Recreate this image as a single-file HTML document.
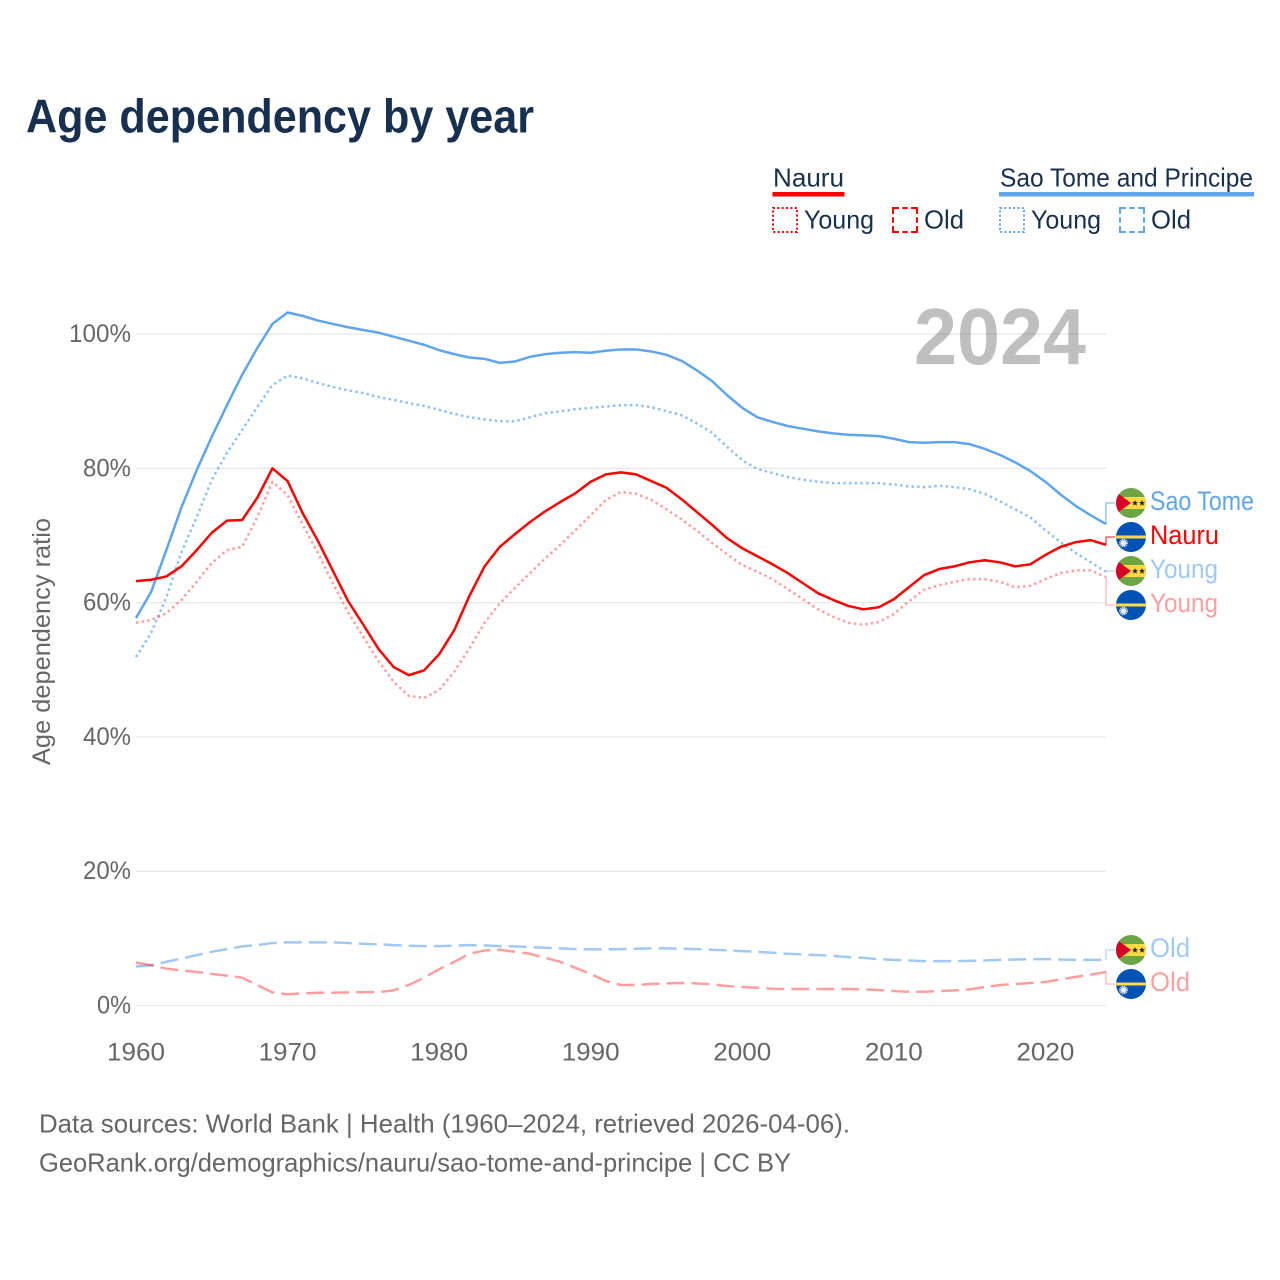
<!DOCTYPE html>
<html lang="en">
<head>
<meta charset="utf-8">
<title>Age dependency by year</title>
<style>
  html, body { margin: 0; padding: 0; background: #fff; }
  svg { display: block; font-family: "Liberation Sans", sans-serif; }
</style>
</head>
<body>
<svg id="chart" width="1280" height="1280" viewBox="0 0 1280 1280" xmlns="http://www.w3.org/2000/svg">
  <defs>
    <clipPath id="flag-clip"><circle cx="0" cy="0" r="15"/></clipPath>
    <g id="flag-st" clip-path="url(#flag-clip)">
      <rect x="-15" y="-15" width="30" height="30" fill="#6da544"/>
      <rect x="-15" y="-6" width="30" height="12" fill="#ffda44"/>
      <polygon points="-15,-11 -15,11 0,0" fill="#d80027"/>
      <polygon points="4,-3 4.9,-0.9 7,-0.9 5.3,0.5 6,2.8 4,1.4 2,2.8 2.7,0.5 1,-0.9 3.1,-0.9" fill="#222"/>
      <polygon points="11,-3 11.9,-0.9 14,-0.9 12.3,0.5 13,2.8 11,1.4 9,2.8 9.7,0.5 8,-0.9 10.1,-0.9" fill="#222"/>
    </g>
    <g id="flag-nr" clip-path="url(#flag-clip)">
      <rect x="-15" y="-15" width="30" height="30" fill="#0052b4"/>
      <rect x="-15" y="-1.5" width="30" height="3" fill="#ffda44"/>
      <circle cx="-7.5" cy="6" r="2.8" fill="#f0f0f0"/>
      <circle cx="-7.5" cy="6" r="3.6" fill="none" stroke="#f0f0f0" stroke-width="1.4" stroke-dasharray="1.2,0.7"/>
    </g>
  </defs>

  <text x="26" y="132.5" font-size="47" font-weight="700" fill="#18304f" textLength="508" lengthAdjust="spacingAndGlyphs">Age dependency by year</text>

  <g font-size="26" fill="#18304f">
    <text x="773" y="186.5" textLength="71" lengthAdjust="spacingAndGlyphs">Nauru</text>
    <rect x="772.5" y="192" width="72" height="4.5" fill="#ff0000"/>
    <rect x="773" y="208" width="24" height="24" fill="none" stroke="#ff0000" stroke-width="2" stroke-dasharray="2,2.36"/>
    <text x="804" y="228.5" textLength="70" lengthAdjust="spacingAndGlyphs">Young</text>
    <rect x="893" y="208" width="24" height="24" fill="none" stroke="#ff0000" stroke-width="2" stroke-dasharray="12,3.3,5.4,3.3" stroke-dashoffset="6"/>
    <text x="924" y="228.5" textLength="40" lengthAdjust="spacingAndGlyphs">Old</text>

    <text x="1000" y="186.5" textLength="253" lengthAdjust="spacingAndGlyphs">Sao Tome and Principe</text>
    <rect x="999" y="192" width="255" height="4.5" fill="#5fa5ee"/>
    <rect x="1000" y="208" width="24" height="24" fill="none" stroke="#5fa5ee" stroke-width="2" stroke-dasharray="2,2.36"/>
    <text x="1031" y="228.5" textLength="70" lengthAdjust="spacingAndGlyphs">Young</text>
    <rect x="1120" y="208" width="24" height="24" fill="none" stroke="#5fa5ee" stroke-width="2" stroke-dasharray="12,3.3,5.4,3.3" stroke-dashoffset="6"/>
    <text x="1151" y="228.5" textLength="40" lengthAdjust="spacingAndGlyphs">Old</text>
  </g>

  <g id="grid"></g>
  <g id="yticks"></g>
  <g id="xticks"></g>
  <text transform="translate(50,765) rotate(-90)" font-size="25" fill="#666" textLength="247" lengthAdjust="spacingAndGlyphs">Age dependency ratio</text>

  <g id="series"></g>
  <g id="end-labels"></g>

  <text x="914" y="364" font-size="80" font-weight="700" fill="#000" fill-opacity="0.25" textLength="172" lengthAdjust="spacingAndGlyphs">2024</text>

  <text x="39" y="1132.5" font-size="26" fill="#666" textLength="811" lengthAdjust="spacingAndGlyphs">Data sources: World Bank | Health (1960–2024, retrieved 2026-04-06).</text>
  <text x="39" y="1171.5" font-size="26" fill="#666" textLength="752" lengthAdjust="spacingAndGlyphs">GeoRank.org/demographics/nauru/sao-tome-and-principe | CC BY</text>
</svg>

<script>
var startYear = 1960;
var yTickValues = [0, 20, 40, 60, 80, 100];
var yTickLabels = ["0%", "20%", "40%", "60%", "80%", "100%"];
var xTickValues = [1960, 1970, 1980, 1990, 2000, 2010, 2020];
var xTickLabels = ["1960", "1970", "1980", "1990", "2000", "2010", "2020"];

var saoTomeTotal = [57.7,61.6,67.8,74.2,79.7,84.7,89.4,93.9,97.9,101.5,103.2,102.7,102.0,101.5,101.0,100.6,100.2,99.6,99.0,98.4,97.6,97.0,96.5,96.3,95.7,95.9,96.6,97.0,97.2,97.3,97.2,97.5,97.7,97.7,97.4,96.9,96.0,94.6,93.0,90.9,89.0,87.6,86.9,86.3,85.9,85.5,85.2,85.0,84.9,84.8,84.4,83.9,83.8,83.9,83.9,83.6,82.9,82.0,80.9,79.6,78.0,76.1,74.4,73.0,71.7];
var saoTomeYoung = [51.9,55.5,60.8,67.5,72.7,78.3,82.3,85.7,89.1,92.4,93.8,93.4,92.7,92.1,91.6,91.2,90.6,90.2,89.7,89.3,88.7,88.1,87.6,87.3,87.0,87.0,87.6,88.2,88.5,88.8,89.0,89.2,89.4,89.4,89.1,88.5,87.9,86.7,85.3,83.2,81.2,79.9,79.3,78.7,78.3,78.0,77.8,77.8,77.8,77.8,77.6,77.3,77.2,77.4,77.2,76.9,76.2,75.1,73.9,72.7,70.8,69.0,67.4,66.0,64.6];
var saoTomeOld = [5.8,6.0,6.5,7.0,7.5,8.0,8.4,8.8,9.0,9.3,9.4,9.4,9.4,9.4,9.3,9.2,9.1,9.0,8.9,8.85,8.85,8.9,9.0,8.95,8.85,8.8,8.7,8.6,8.5,8.4,8.35,8.35,8.4,8.45,8.5,8.5,8.45,8.4,8.3,8.2,8.1,8.0,7.85,7.7,7.6,7.5,7.4,7.2,7.1,6.9,6.8,6.7,6.6,6.6,6.6,6.65,6.7,6.8,6.85,6.9,6.9,6.85,6.8,6.8,6.8];
var nauruTotal = [63.2,63.4,63.9,65.4,67.8,70.4,72.2,72.3,75.6,80.0,78.1,73.3,69.2,64.7,60.2,56.7,53.1,50.4,49.2,49.9,52.3,55.9,61.0,65.4,68.3,70.2,72.0,73.6,75.0,76.3,78.0,79.1,79.4,79.1,78.1,77.1,75.4,73.5,71.6,69.6,68.1,66.9,65.7,64.4,62.9,61.4,60.4,59.5,59.0,59.3,60.5,62.3,64.1,65.0,65.4,66.0,66.3,66.0,65.4,65.7,67.1,68.3,69.0,69.3,68.6];
var nauruYoung = [57.0,57.4,58.4,60.4,63.1,65.9,67.8,68.3,72.7,78.0,76.0,71.6,67.4,62.8,58.5,54.9,51.3,48.2,46.1,45.8,47.0,49.7,53.2,57.0,59.9,62.2,64.4,66.6,68.6,70.8,73.0,75.3,76.5,76.2,75.3,73.9,72.4,70.7,68.9,67.2,65.6,64.6,63.5,62.0,60.5,59.0,57.9,57.0,56.7,57.1,58.3,60.2,61.9,62.6,63.1,63.5,63.5,63.1,62.3,62.5,63.5,64.4,64.8,64.8,63.8];
var nauruOld = [6.4,6.0,5.5,5.2,5.0,4.7,4.45,4.15,3.05,1.95,1.67,1.8,1.9,1.9,1.95,2.0,2.0,2.25,3.05,4.15,5.4,6.5,7.7,8.2,8.3,8.0,7.7,7.1,6.5,5.6,4.7,3.65,3.05,3.05,3.2,3.3,3.35,3.3,3.15,2.9,2.75,2.65,2.5,2.45,2.45,2.45,2.45,2.45,2.4,2.3,2.15,2.05,2.05,2.15,2.25,2.4,2.75,3.05,3.2,3.35,3.5,3.9,4.25,4.6,5.0];

var NS = "http://www.w3.org/2000/svg";
function x(year) { return 136 + (year - 1960) * (970 / 64); }
function y(value) { return 1005.5 - value * 6.715; }
function make(tag, attrs, parent) {
  var el = document.createElementNS(NS, tag);
  for (var k in attrs) el.setAttribute(k, attrs[k]);
  parent.appendChild(el);
  return el;
}

var grid = document.getElementById("grid");
var yticks = document.getElementById("yticks");
yTickValues.forEach(function (v, i) {
  var ln = make("line", { x1: 136, x2: 1106, y1: y(v), y2: y(v), stroke: "#e8e8e8", "stroke-width": 1.3 }, grid);
  
  
  var label = yTickLabels[i];
  var t = make("text", { x: 131, y: y(v) + 8, "text-anchor": "end", "font-size": 25, fill: "#666", textLength: 6 + label.length * 14, lengthAdjust: "spacingAndGlyphs" }, yticks);
  
  
  t.textContent = label;
});

var xticks = document.getElementById("xticks");
xTickValues.forEach(function (v, i) {
  var t = make("text", { x: x(v), y: 1060.5, "text-anchor": "middle", "font-size": 25, fill: "#666", textLength: 58, lengthAdjust: "spacingAndGlyphs" }, xticks);
  
  
  t.textContent = xTickLabels[i];
});

function pathFor(values) {
  return values.map(function (v, i) {
    return (i ? "L" : "M") + x(startYear + i).toFixed(2) + " " + y(v).toFixed(2);
  }).join(" ");
}

var seriesGroup = document.getElementById("series");
function drawSeries(name, values, color, opacity, dash) {
  var p = make("path", { d: pathFor(values), fill: "none", stroke: color, "stroke-opacity": opacity, "stroke-width": 2.5, "stroke-linejoin": "round" }, seriesGroup);
  if (dash) p.setAttribute("stroke-dasharray", dash);
  
  
}
drawSeries("line-sao-tome-old", saoTomeOld, "#5fa5ee", 0.6, "18,7");
drawSeries("line-nauru-old", nauruOld, "#ff0000", 0.38, "18,7");
drawSeries("line-sao-tome-young", saoTomeYoung, "#5fa5ee", 0.7, "2.5,3.2");
drawSeries("line-nauru-young", nauruYoung, "#ff0000", 0.38, "2.5,3.2");
drawSeries("line-sao-tome-total", saoTomeTotal, "#5fa5ee", 1, null);
drawSeries("line-nauru-total", nauruTotal, "#ff0000", 1, null);

var endGroup = document.getElementById("end-labels");
function drawEnd(name, values, flag, slotY, text, color, opacity, width) {
  var endY = y(values[values.length - 1]);
  var c = make("polyline", { points: "1106," + endY.toFixed(2) + " 1106," + slotY + " 1115," + slotY, fill: "none", stroke: color, "stroke-opacity": opacity * 0.75, "stroke-width": 1.3 }, endGroup);
  
  
  var f = make("use", { href: "#" + flag, transform: "translate(1131," + slotY + ")" }, endGroup);
  
  
  var t = make("text", { x: 1150, y: slotY + 7, "font-size": 27, fill: color, "fill-opacity": opacity, textLength: width, lengthAdjust: "spacingAndGlyphs" }, endGroup);
  
  
  t.textContent = text;
}
drawEnd("end-sao-tome-total", saoTomeTotal, "flag-st", 503, "Sao Tome", "#5fa5ee", 1, 104);
drawEnd("end-nauru-total", nauruTotal, "flag-nr", 537, "Nauru", "#ff0000", 1, 69);
drawEnd("end-sao-tome-young", saoTomeYoung, "flag-st", 571, "Young", "#5fa5ee", 0.6, 68);
drawEnd("end-nauru-young", nauruYoung, "flag-nr", 605, "Young", "#ff0000", 0.38, 68);
drawEnd("end-sao-tome-old", saoTomeOld, "flag-st", 950, "Old", "#5fa5ee", 0.6, 40);
drawEnd("end-nauru-old", nauruOld, "flag-nr", 984, "Old", "#ff0000", 0.38, 40);
</script>
</body>
</html>
